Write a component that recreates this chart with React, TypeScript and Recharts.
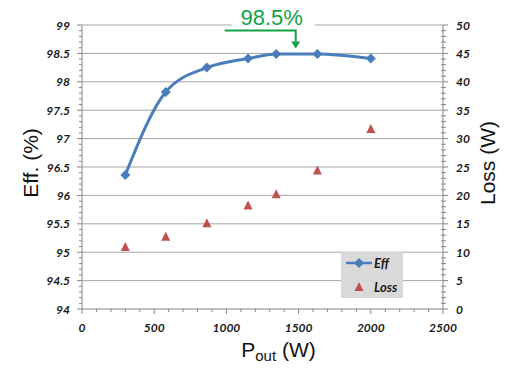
import { ComposedChart, Line, Scatter, XAxis, YAxis, ReferenceLine, ReferenceDot, Legend } from 'recharts';

// measured operating points
const powerW = [300, 580, 865, 1150, 1345, 1630, 2000];
const effPct = [96.36, 97.82, 98.25, 98.41, 98.49, 98.49, 98.41];
const lossW = [10.9, 12.7, 15.1, 18.2, 20.2, 24.4, 31.7];

// axis labels
const powerTicks = [0, 500, 1000, 1500, 2000, 2500];
const effTicks = [94, 94.5, 95, 95.5, 96, 96.5, 97, 97.5, 98, 98.5, 99];
const lossTicks = [0, 5, 10, 15, 20, 25, 30, 35, 40, 45, 50];

const peakText = '98.5%';
const peakPoint = { p: 1480, eff: 98.5 };

const data = powerW.map((p, i) => ({ p, eff: effPct[i], loss: lossW[i] }));

const EFF_COLOR = '#4a7ebb';
const LOSS_COLOR = '#c0504d';
const PEAK_COLOR = '#12a146';
const AXIS_COLOR = '#868686';
const GRID_COLOR = '#a6a6a6';

const tickFont = {
  fontFamily: 'Lato, "Open Sans", sans-serif',
  fontWeight: 700,
  fontStyle: 'italic' as const,
  fontSize: 12,
  fill: '#1a1a1a',
};
const titleFont = { fontFamily: '"Liberation Sans", Arial, sans-serif', fill: '#111' };

// majors plus `parts` subdivisions between them
const withMinor = (major: number[], parts: number) => {
  const out: number[] = [];
  for (let i = 0; i < major.length - 1; i++) {
    const step = (major[i + 1] - major[i]) / parts;
    for (let k = 0; k < parts; k++) out.push(Math.round((major[i] + k * step) * 1e6) / 1e6);
  }
  out.push(major[major.length - 1]);
  return out;
};
const isMajor = (major: number[], v: number) => major.some((m) => Math.abs(m - v) < 1e-6);

const LeftTick = ({ x, y, payload }: any) => {
  const major = isMajor(effTicks, payload.value);
  return (
    <g>
      <line x1={x - (major ? 5 : 3)} x2={x} y1={y} y2={y} stroke={AXIS_COLOR} />
      {major && (
        <text x={x - 12} y={y} textAnchor="end" dominantBaseline="central" style={tickFont}>
          {payload.value}
        </text>
      )}
    </g>
  );
};

const RightTick = ({ x, y, payload }: any) => {
  const major = isMajor(lossTicks, payload.value);
  return (
    <g>
      <line x1={x - (major ? 0 : 2)} x2={x + (major ? 5 : 3)} y1={y} y2={y} stroke={AXIS_COLOR} />
      {major && (
        <text x={x + 13} y={y} textAnchor="start" dominantBaseline="central" style={tickFont}>
          {payload.value}
        </text>
      )}
    </g>
  );
};

const BottomTick = ({ x, y, payload }: any) => {
  const major = isMajor(powerTicks, payload.value);
  return (
    <g>
      <line x1={x} x2={x} y1={y} y2={y + (major ? 5 : 3)} stroke={AXIS_COLOR} />
      {major && (
        <text x={x} y={y + 18} textAnchor="middle" dominantBaseline="central" style={tickFont}>
          {payload.value}
        </text>
      )}
    </g>
  );
};

const EffTitle = ({ viewBox }: any) => {
  const cx = 30;
  const cy = viewBox.y + viewBox.height / 2 - 4;
  return (
    <text x={cx} y={cy} transform={`rotate(-90 ${cx} ${cy})`} textAnchor="middle" dominantBaseline="central" fontSize={21} style={titleFont}>
      Eff. (%)
    </text>
  );
};

const LossTitle = ({ viewBox }: any) => {
  const cx = viewBox.x + 44;
  const cy = viewBox.y + viewBox.height / 2 - 4;
  return (
    <text x={cx} y={cy} transform={`rotate(-90 ${cx} ${cy})`} textAnchor="middle" dominantBaseline="central" fontSize={21} style={titleFont}>
      Loss (W)
    </text>
  );
};

const PowerTitle = ({ viewBox }: any) => (
  <text x={viewBox.x + viewBox.width / 2 + 16} y={viewBox.y + 48} textAnchor="middle" fontSize={21} style={titleFont}>
    <tspan>P</tspan>
    <tspan fontSize={15} dy={4}>out</tspan>
    <tspan dy={-4}> (W)</tspan>
  </text>
);

const Diamond = ({ cx, cy }: any) =>
  cx == null ? <g /> : <path d={`M${cx},${cy - 5}L${cx + 5},${cy}L${cx},${cy + 5}L${cx - 5},${cy}Z`} fill={EFF_COLOR} />;

const Triangle = ({ cx, cy }: any) =>
  cx == null ? <g /> : <path d={`M${cx},${cy - 5}L${cx + 4.5},${cy + 4}L${cx - 4.5},${cy + 4}Z`} fill={LOSS_COLOR} />;

const PeakCallout = ({ cx, cy }: any) => {
  if (cx == null) return <g />;
  const barY = cy - 23;
  return (
    <g>
      <rect x={cx - 64} y={cy - 40} width={83} height={14} fill="#fff" />
      <text x={cx - 24} y={cy - 28} textAnchor="middle" fontSize={22} fill={PEAK_COLOR} style={{ fontFamily: '"Liberation Sans", Arial, sans-serif' }}>
        {peakText}
      </text>
      <path d={`M${cx - 71},${barY}H${cx}V${cy - 12}`} fill="none" stroke={PEAK_COLOR} strokeWidth={2} />
      <path d={`M${cx - 4.5},${cy - 12}L${cx + 4.5},${cy - 12}L${cx},${cy - 5}Z`} fill={PEAK_COLOR} />
    </g>
  );
};

const LegendBox = () => (
  <svg width={62} height={46} style={{ display: 'block', background: '#d9d9d9' }}>
    <line x1={5} x2={31} y1={11} y2={11} stroke={EFF_COLOR} strokeWidth={2.5} />
    <Diamond cx={18} cy={11} />
    <text x={33} y={11} dominantBaseline="central" style={{ ...tickFont, fontSize: 13 }}>Eff</text>
    <Triangle cx={18} cy={35} />
    <text x={33} y={35} dominantBaseline="central" style={{ ...tickFont, fontSize: 13 }}>Loss</text>
  </svg>
);

export default function App() {
  return (
    <div style={{ position: 'absolute', left: 0, top: 0, width: 520, height: 376, background: '#fff' }}>
      <ComposedChart width={520} height={376} data={data} margin={{ top: 25, right: 0, bottom: 0, left: 0 }}>
        <XAxis
          dataKey="p"
          type="number"
          domain={[0, 2500]}
          ticks={withMinor(powerTicks, 5)}
          interval={0}
          height={67}
          stroke={AXIS_COLOR}
          tickSize={0}
          tickMargin={0}
          tick={<BottomTick />}
          label={<PowerTitle />}
        />
        <YAxis
          yAxisId="left"
          type="number"
          domain={[94, 99]}
          ticks={withMinor(effTicks, 5)}
          interval={0}
          width={82}
          stroke={AXIS_COLOR}
          tickSize={0}
          tickMargin={0}
          tick={<LeftTick />}
          label={<EffTitle />}
        />
        <YAxis
          yAxisId="right"
          orientation="right"
          type="number"
          domain={[0, 50]}
          ticks={withMinor(lossTicks, 5)}
          interval={0}
          width={77}
          stroke={AXIS_COLOR}
          tickSize={0}
          tickMargin={0}
          tick={<RightTick />}
          label={<LossTitle />}
        />
        {effTicks.slice(1).map((v) => (
          <ReferenceLine key={v} yAxisId="left" y={v} stroke={GRID_COLOR} />
        ))}
        <ReferenceDot yAxisId="left" x={peakPoint.p} y={peakPoint.eff} shape={<PeakCallout />} ifOverflow="visible" />
        <Line
          yAxisId="left"
          dataKey="eff"
          type="monotone"
          stroke={EFF_COLOR}
          strokeWidth={3}
          dot={<Diamond />}
          activeDot={false}
          isAnimationActive={false}
        />
        <Scatter yAxisId="right" dataKey="loss" shape={<Triangle />} isAnimationActive={false} />
        <Legend
          layout="vertical"
          align="center"
          verticalAlign="middle"
          wrapperStyle={{ position: 'absolute', left: 341, top: 252, width: 62, height: 46 }}
          content={() => <LegendBox />}
        />
      </ComposedChart>
    </div>
  );
}
